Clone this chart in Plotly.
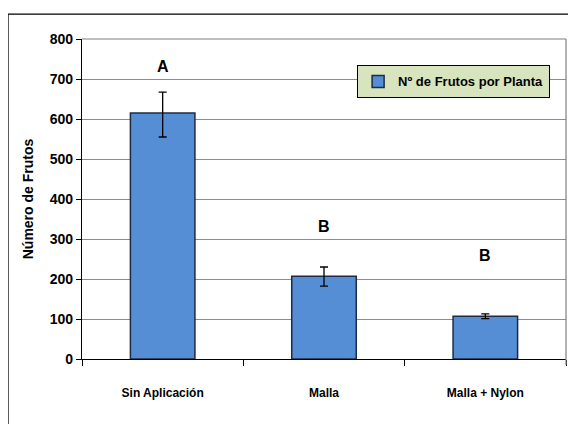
import plotly.graph_objects as go

categories = ["Sin Aplicación", "Malla", "Malla + Nylon"]
frutos = [615, 207, 107]
err_plus = [52, 23, 6]
err_minus = [60, 25, 6]
letters = ["A", "B", "B"]
letter_y = [732, 332, 260]
y_ticks = [0, 100, 200, 300, 400, 500, 600, 700, 800]

FONT = "Liberation Sans, Arial, sans-serif"

fig = go.Figure()
fig.add_trace(go.Bar(
    x=categories, y=frutos, name="Nº de Frutos por Planta",
    width=0.4,
    marker=dict(color="#558ed5", line=dict(color="#1f2a44", width=1.5)),
    error_y=dict(type="data", symmetric=False, array=err_plus, arrayminus=err_minus,
                 color="black", thickness=1.3, width=4),
))

for c, l, ly in zip(categories, letters, letter_y):
    fig.add_annotation(x=c, y=ly, text=l, showarrow=False,
                       font=dict(family=FONT, size=16, color="black", weight="bold"))

# outer chart border (top and left edges visible)
fig.add_shape(type="line", xref="paper", yref="paper",
              x0=-0.1529, x1=1.04, y0=1.078, y1=1.078,
              line=dict(color="black", width=1.3), layer="above")
fig.add_shape(type="line", xref="paper", yref="paper",
              x0=-0.1529, x1=-0.1529, y0=-0.3, y1=1.078,
              line=dict(color="black", width=1.3), layer="above")
# plot area border (grey, top and right)
fig.add_shape(type="line", xref="paper", yref="paper",
              x0=0, x1=1, y0=1, y1=1,
              line=dict(color="#7f7f7f", width=1.2), layer="above")
fig.add_shape(type="line", xref="paper", yref="paper",
              x0=1, x1=1, y0=-0.018, y1=1,
              line=dict(color="#7f7f7f", width=1.2), layer="above")

fig.update_layout(
    width=576, height=424,
    margin=dict(l=74, r=18, t=31, b=73),
    paper_bgcolor="white", plot_bgcolor="white",
    font=dict(family=FONT, color="black"),
    showlegend=True,
    legend=dict(x=0.568, y=0.918, xanchor="left", yanchor="top",
                bgcolor="#d7e4bd", bordercolor="black", borderwidth=1.2,
                font=dict(family=FONT, size=13, color="black", weight="bold"),
                itemwidth=30, tracegroupgap=0),
    xaxis=dict(showline=True, linecolor="black", linewidth=1.2, automargin=False,
               ticks="outside", tickson="boundaries", ticklen=6, tickcolor="black",
               tickfont=dict(family=FONT, size=12, color="black", weight="bold"),
               ticklabelstandoff=22, showgrid=False),
    yaxis=dict(range=[0, 800], tickvals=y_ticks, showline=True, linecolor="black", linewidth=1.2,
               automargin=False,
               ticks="outside", ticklen=5, tickcolor="black",
               showgrid=True, gridcolor="#8c8c8c", gridwidth=1,
               tickfont=dict(family=FONT, size=14, color="black", weight="bold"),
               title=dict(text="Número de Frutos",
                          font=dict(family=FONT, size=14, color="black", weight="bold"),
                          standoff=12),
               zeroline=False),
)

fig.write_html("out.html")
